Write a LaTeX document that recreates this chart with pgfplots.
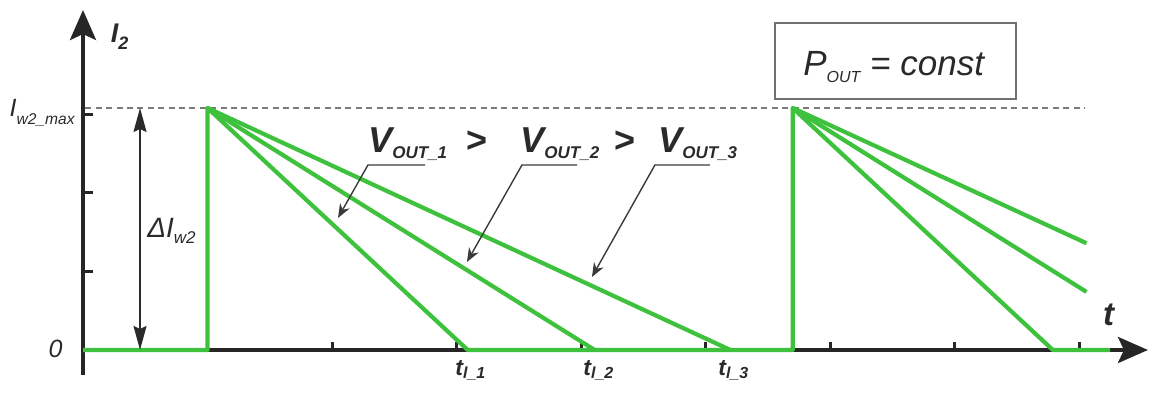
\documentclass[border=0pt]{standalone}
\usepackage{pgfplots}
\pgfplotsset{compat=1.18}
\usepackage{fontspec}
\setmainfont{Liberation Sans}
\usetikzlibrary{arrows.meta}

\definecolor{wave}{HTML}{3EC23E}
\definecolor{axisc}{HTML}{262626}
\definecolor{txt}{HTML}{2A2A2A}
\definecolor{leader}{HTML}{3A3A3A}
\definecolor{dashc}{HTML}{7A7A7A}
\definecolor{boxc}{HTML}{707070}

% lowered, smaller text for subscripts: drop, size, text
\newcommand{\sub}[3]{\raisebox{-#1}{\fontsize{#2}{#2}\selectfont #3}}

\begin{document}
\begin{tikzpicture}
\begin{axis}[
  width=576pt, height=197pt, scale only axis,
  xmin=-0.6667, xmax=8.5863, ymin=-0.5605, ymax=4.4586,
  hide axis, clip=false,
]
% level of the peak current
\draw[dashc, line width=1pt, dash pattern=on 3pt off 2.2pt]
  (axis cs:0.02,3.083) -- (axis cs:8.05,3.083);

% axes with arrow heads
\draw[axisc, line width=2pt, -{Stealth[length=15pt,width=13pt,inset=3pt]}]
  (axis cs:0,-0.318) -- (axis cs:0,4.331);
\draw[axisc, line width=2pt, -{Stealth[length=15pt,width=13pt,inset=3pt]}]
  (axis cs:0,0) -- (axis cs:8.554,0);

% tick marks
\pgfplotsinvokeforeach{1,...,8}{
  \draw[axisc, line width=1.5pt] (axis cs:#1,0) -- (axis cs:#1,0.1);
}
\pgfplotsinvokeforeach{1,2,3}{
  \draw[axisc, line width=1.5pt] (axis cs:0,#1) -- (axis cs:0.08,#1);
}

% secondary current: base waveform with the steepest decay
\addplot[wave, line width=2.1pt, line join=round] coordinates {
  (0,0) (1.0,0) (1.0,3.083) (3.09,0) (5.70,0) (5.70,3.083) (7.79,0) (8.25,0)};
% slower decays for the lower output voltages
\addplot[wave, line width=2.1pt] coordinates {(1.0,3.083) (4.11,0)};
\addplot[wave, line width=2.1pt] coordinates {(1.0,3.083) (5.20,0)};
\addplot[wave, line width=2.1pt] coordinates {(5.70,3.083) (8.06,0.74)};
\addplot[wave, line width=2.1pt] coordinates {(5.70,3.083) (8.06,1.36)};

% current swing
\draw[txt, line width=0.8pt,
  {Stealth[length=12pt,width=6.5pt,inset=1.5pt]}-{Stealth[length=12pt,width=6.5pt,inset=1.5pt]}]
  (axis cs:0.458,0) -- (axis cs:0.458,3.083);

% leaders from the voltage labels
\draw[leader, line width=0.7pt, -{Stealth[length=7pt,width=5.5pt]}]
  (axis cs:2.747,2.357) -- (axis cs:2.289,2.357) -- (axis cs:2.048,1.682);
\draw[leader, line width=0.7pt, -{Stealth[length=7pt,width=5.5pt]}]
  (axis cs:3.968,2.357) -- (axis cs:3.526,2.357) -- (axis cs:3.084,1.121);
\draw[leader, line width=0.7pt, -{Stealth[length=7pt,width=5.5pt]}]
  (axis cs:5.036,2.357) -- (axis cs:4.594,2.357) -- (axis cs:4.088,0.930);

% labels
\node[anchor=base west, inner sep=0, text=txt] at (axis cs:0.22,3.911)
  {\fontsize{13.5}{15}\selectfont\bfseries\itshape I\sub{3.5pt}{9}{2}};
\node[anchor=base east, inner sep=0, text=txt] at (axis cs:-0.064,2.968)
  {\fontsize{12.5}{14}\selectfont\itshape I\sub{4pt}{7.8}{w2\_max}};
\node[anchor=base east, inner sep=0, text=txt] at (axis cs:-0.161,-0.102)
  {\fontsize{12.5}{14}\selectfont\itshape 0};
\node[anchor=base west, inner sep=0, text=txt] at (axis cs:0.514,1.439)
  {\fontsize{14}{16}\selectfont\itshape ΔI\sub{3pt}{8.5}{w2}};

\node[anchor=base west, inner sep=0, text=txt] at (axis cs:2.289,2.522)
  {\fontsize{18}{20}\selectfont\bfseries\itshape V\sub{3pt}{8.5}{OUT\_1}};
\node[anchor=base, inner sep=0, text=txt] at (axis cs:3.165,2.522)
  {\fontsize{18}{20}\selectfont\bfseries >};
\node[anchor=base west, inner sep=0, text=txt] at (axis cs:3.510,2.522)
  {\fontsize{18}{20}\selectfont\bfseries\itshape V\sub{3pt}{8.5}{OUT\_2}};
\node[anchor=base, inner sep=0, text=txt] at (axis cs:4.353,2.522)
  {\fontsize{18}{20}\selectfont\bfseries >};
\node[anchor=base west, inner sep=0, text=txt] at (axis cs:4.618,2.522)
  {\fontsize{18}{20}\selectfont\bfseries\itshape V\sub{3pt}{8.5}{OUT\_3}};

\node[anchor=base west, inner sep=0, text=txt] at (axis cs:2.988,-0.331)
  {\fontsize{11.5}{13}\selectfont\bfseries\itshape t\sub{1.5pt}{8}{l\_1}};
\node[anchor=base west, inner sep=0, text=txt] at (axis cs:4.016,-0.331)
  {\fontsize{11.5}{13}\selectfont\bfseries\itshape t\sub{1.5pt}{8}{l\_2}};
\node[anchor=base west, inner sep=0, text=txt] at (axis cs:5.100,-0.331)
  {\fontsize{11.5}{13}\selectfont\bfseries\itshape t\sub{1.5pt}{8}{l\_3}};

\node[anchor=base west, inner sep=0, text=txt] at (axis cs:8.19,0.318)
  {\fontsize{16.5}{18}\selectfont\bfseries\itshape t};

% operating condition box
\draw[boxc, line width=0.8pt, fill=white]
  (axis cs:5.558,3.197) rectangle (axis cs:7.494,4.166);
\node[anchor=base west, inner sep=0, text=txt] at (axis cs:5.783,3.503)
  {\fontsize{17.5}{19}\selectfont\itshape P\sub{3.5pt}{8}{OUT} = const};
\end{axis}
\pgfresetboundingbox
\path (current axis.south west) rectangle (current axis.north east);
\end{tikzpicture}
\end{document}
